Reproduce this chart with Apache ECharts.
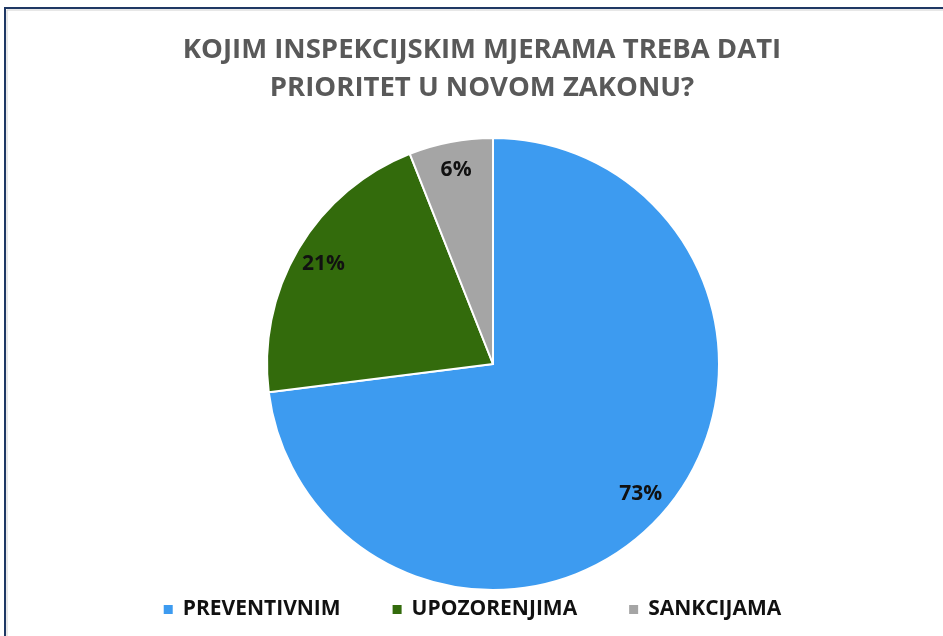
<!DOCTYPE html>
<html>
<head>
<meta charset="utf-8">
<script src="https://cdn.jsdelivr.net/npm/echarts@6/dist/echarts.min.js"></script>
<style>
  html, body { margin: 0; padding: 0; background: #fff; }
  #chart { width: 943px; height: 636px; }
</style>
</head>
<body>
<div id="chart"></div>
<script>
// podaci s grafikona
const categories = ['PREVENTIVNIM', 'UPOZORENJIMA', 'SANKCIJAMA'];
const values = [73, 21, 6];
const colors = ['#3D9BF0', '#336B0C', '#A5A5A5'];

const chart = echarts.init(document.getElementById('chart'));

const pieData = categories.map((name, i) => ({
    name: name,
    value: values[i],
    itemStyle: { color: colors[i] }
}));

const option = {
    backgroundColor: '#fff',
    animation: false,
    title: {
        text: 'KOJIM INSPEKCIJSKIM MJERAMA TREBA DATI\nPRIORITET U NOVOM ZAKONU?',
        left: 477,
        textAlign: 'center',
        top: 26,
        textStyle: {
            fontFamily: 'Open Sans',
            fontWeight: 'bold',
            fontSize: 27.5,
            color: '#595959',
            lineHeight: 38
        }
    },
    legend: {
        top: 594,
        left: 'center',
        itemWidth: 11,
        itemHeight: 11,
        itemGap: 50,
        icon: 'rect',
        data: categories.map((name, i) => ({ name: name, itemStyle: { color: colors[i] } })),
        textStyle: {
            fontFamily: 'Open Sans',
            fontWeight: 'bold',
            fontSize: 21,
            color: '#111',
            padding: [0, 0, 0, 4]
        }
    },
    graphic: [
        // okvir grafikona
        { type: 'rect', shape: { x: 5, y: 8, width: 1200, height: 800 },
          style: { fill: 'none', stroke: '#1F3864', lineWidth: 2 }, silent: true },
        { type: 'rect', shape: { x: 7, y: 10, width: 1200, height: 800 },
          style: { fill: 'none', stroke: '#d0d0d0', lineWidth: 1 }, silent: true }
    ],
    series: [
        {
            type: 'pie',
            center: [493, 364],
            radius: [0, 226],
            startAngle: 90,
            clockwise: true,
            data: pieData,
            label: { show: false },
            labelLine: { show: false },
            itemStyle: { borderColor: '#fff', borderWidth: 2 },
            silent: true
        },
        {
            // prozirni sloj samo za postotke
            type: 'pie',
            center: [493, 364],
            radius: [162, 226],
            startAngle: 90,
            clockwise: true,
            data: categories.map((name, i) => ({ name: name, value: values[i] })),
            itemStyle: { color: 'rgba(0,0,0,0)', borderWidth: 0 },
            label: {
                show: true,
                position: 'inside',
                formatter: '{c}%',
                fontFamily: 'Open Sans',
                fontWeight: 'bold',
                fontSize: 21,
                color: '#111'
            },
            labelLine: { show: false },
            silent: true
        }
    ]
};

chart.setOption(option);
</script>
</body>
</html>
